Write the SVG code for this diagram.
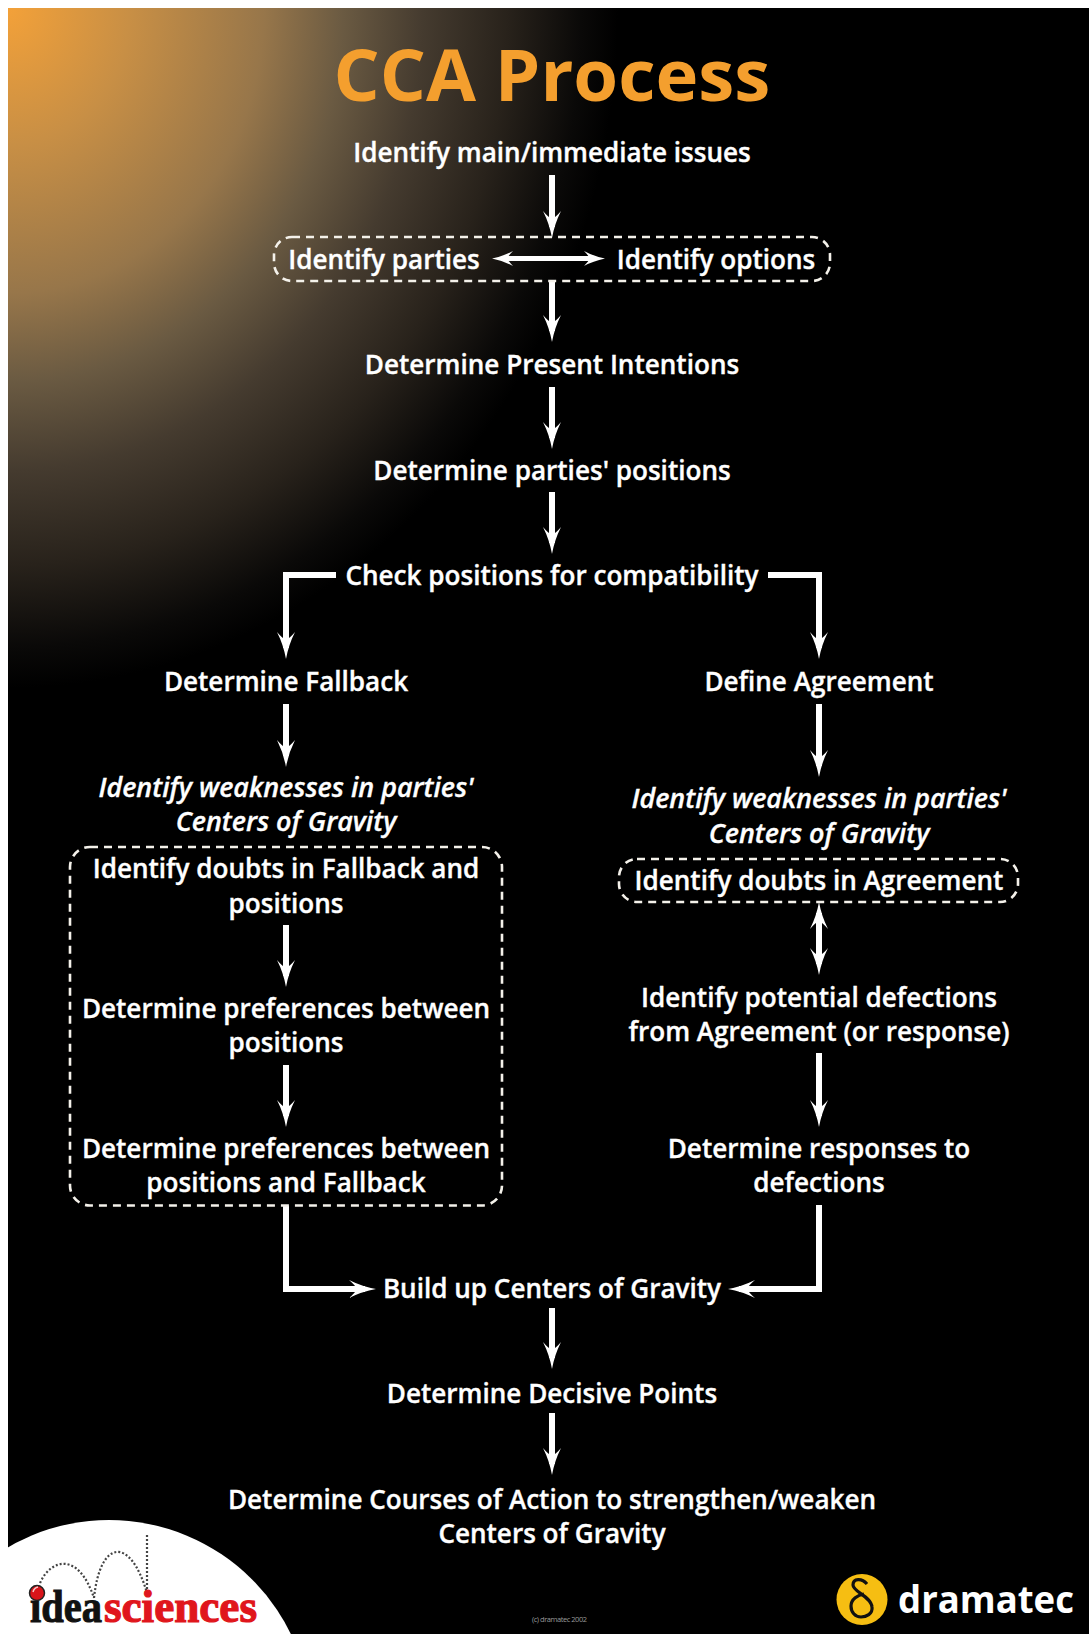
<svg xmlns="http://www.w3.org/2000/svg" width="1089" height="1634" viewBox="0 0 1089 1634">
<style>
.t{font-family:"Open Sans","Noto Sans",sans-serif;font-weight:600;font-size:26.1px;fill:#fff;stroke:#fff;stroke-width:.35px;text-anchor:middle;transform:translateY(.6px)}
.i{font-style:italic;font-size:26.9px}
.c{fill:none;stroke:#fff;stroke-width:6}
.h{fill:none;stroke:#fff;stroke-width:5}
.d{fill:none;stroke:#f4f1ea;stroke-width:2.6;stroke-dasharray:8 6}
.dot{fill:none;stroke:#444;stroke-width:2.2;stroke-dasharray:2 2}
</style>
<defs>
<radialGradient id="glow" gradientUnits="userSpaceOnUse" cx="0" cy="0" r="1" gradientTransform="translate(8 8) scale(610 680)">
<stop offset="0" stop-color="#f3a139"/>
<stop offset=".2" stop-color="#c88f45"/>
<stop offset=".42" stop-color="#97764a"/>
<stop offset=".55" stop-color="#6a5a42"/>
<stop offset=".68" stop-color="#453b2f"/>
<stop offset=".82" stop-color="#28221b"/>
<stop offset=".94" stop-color="#0a0908"/>
<stop offset="1" stop-color="#000"/>
</radialGradient>
<marker id="a" markerUnits="userSpaceOnUse" markerWidth="27" markerHeight="18" refX="16" refY="9" orient="auto-start-reverse" viewBox="0 0 27 18">
<path d="M27 9Q13 6.500 0 0Q6 5 8 9Q6 13 0 18Q13 11.500 27 9Z" fill="#fff"/>
</marker>
<marker id="b" markerUnits="userSpaceOnUse" markerWidth="21" markerHeight="15" refX="12" refY="7.500" orient="auto-start-reverse" viewBox="0 0 21 15">
<path d="M21 7.500Q9 5 0 0Q4 4 6 7.500Q4 11 0 15Q9 10 21 7.500Z" fill="#fff"/>
</marker>
</defs>
<rect width="1089" height="1634" fill="#fff"/>
<rect id="background" x="8" y="8" width="1081" height="1626" fill="#000"/>
<rect x="8" y="8" width="680" height="700" fill="url(#glow)"/>
<circle cx="109" cy="1722" r="202" fill="#fff"/>
<rect x="0" y="1500" width="8" height="134" fill="#fff"/>

<g id="connectors">
<path class="c" marker-end="url(#a)" d="M552 175V227"/>
<path class="h" marker-start="url(#b)" marker-end="url(#b)" d="M501 258.500H596"/>
<path class="c" marker-end="url(#a)" d="M552 281V331"/>
<path class="c" marker-end="url(#a)" d="M552 387V438"/>
<path class="c" marker-end="url(#a)" d="M552 492V543"/>
<path class="c" marker-end="url(#a)" d="M336 575H286V648"/>
<path class="c" marker-end="url(#a)" d="M768 575H819V648"/>
<path class="c" marker-end="url(#a)" d="M286 704V756"/>
<path class="c" marker-end="url(#a)" d="M819 704V766"/>
<path class="c" marker-end="url(#a)" d="M286 925V976"/>
<path class="c" marker-end="url(#a)" d="M286 1065V1116"/>
<path class="c" marker-start="url(#a)" marker-end="url(#a)" d="M819 913V964"/>
<path class="c" marker-end="url(#a)" d="M819 1053V1116"/>
<path class="c" marker-end="url(#a)" d="M286 1206V1289H365"/>
<path class="c" marker-end="url(#a)" d="M819 1205V1289H739"/>
<path class="c" marker-end="url(#a)" d="M552 1308V1358"/>
<path class="c" marker-end="url(#a)" d="M552 1413V1464"/>
</g>

<g id="title"><text x="552" y="101" style="font-family:'Open Sans','Noto Sans',sans-serif;font-weight:700;font-size:72.500px;fill:#f49f2e;text-anchor:middle">CCA Process</text></g>
<g id="n1"><text class="t" x="552" y="161.500">Identify main/immediate issues</text></g>
<g id="n2">
<rect class="d" x="274" y="237" width="556" height="44" rx="18"/>
<text class="t" x="384" y="268">Identify parties</text>
<text class="t" x="716" y="268">Identify options</text>
</g>
<g id="n3"><text class="t" x="552" y="373">Determine Present Intentions</text></g>
<g id="n4"><text class="t" x="552" y="479">Determine parties' positions</text></g>
<g id="n5"><text class="t" x="552" y="584.500">Check positions for compatibility</text></g>
<g id="n6"><text class="t" x="286" y="690">Determine Fallback</text></g>
<g id="n7"><text class="t" x="819" y="690">Define Agreement</text></g>
<g id="n8"><text class="t i" x="286" y="796">Identify weaknesses in parties'</text><text class="t i" x="286" y="830.500">Centers of Gravity</text></g>
<g id="n9"><text class="t i" x="819" y="807.500">Identify weaknesses in parties'</text><text class="t i" x="819" y="842">Centers of Gravity</text></g>
<g id="box-left"><rect class="d" x="70" y="847" width="432" height="358.500" rx="20"/></g>
<g id="n10"><text class="t" x="286" y="877.500">Identify doubts in Fallback and</text><text class="t" x="286" y="912">positions</text></g>
<g id="n11"><text class="t" x="286" y="1017">Determine preferences between</text><text class="t" x="286" y="1051.500">positions</text></g>
<g id="n12"><text class="t" x="286" y="1157">Determine preferences between</text><text class="t" x="286" y="1191">positions and Fallback</text></g>
<g id="n13"><rect class="d" x="619" y="859" width="399" height="43" rx="18"/><text class="t" x="819" y="889">Identify doubts in Agreement</text></g>
<g id="n14"><text class="t" x="819" y="1006">Identify potential defections</text><text class="t" x="819" y="1040">from Agreement (or response)</text></g>
<g id="n15"><text class="t" x="819" y="1157">Determine responses to</text><text class="t" x="819" y="1191">defections</text></g>
<g id="n16"><text class="t" x="552" y="1297">Build up Centers of Gravity</text></g>
<g id="n17"><text class="t" x="552" y="1402.500">Determine Decisive Points</text></g>
<g id="n18"><text class="t" x="552" y="1508">Determine Courses of Action to strengthen/weaken</text><text class="t" x="552" y="1542">Centers of Gravity</text></g>

<g id="logo-ideasciences">
<path class="dot" d="M40 1583C50 1560 78 1550 94 1598"/>
<path class="dot" d="M94 1598C100 1540 130 1535 147 1593"/>
<path class="dot" d="M147 1535V1593"/>
<text x="30" y="1622" textLength="72" lengthAdjust="spacingAndGlyphs" style="font-family:'Liberation Serif',serif;font-weight:700;font-size:46px;fill:#111;stroke:#111;stroke-width:1">idea</text>
<text x="104" y="1622" textLength="153" lengthAdjust="spacingAndGlyphs" style="font-family:'Liberation Serif',serif;font-weight:700;font-size:46px;fill:#e0161c;stroke:#e0161c;stroke-width:1.200">sciences</text>
<circle cx="37" cy="1593" r="7.500" fill="#d8141a" stroke="#222" stroke-width="1.500"/>
<path d="M33 1592Q34 1588 38 1587" fill="none" stroke="#f6c8c8" stroke-width="1.500"/>
</g>
<g id="logo-dramatec">
<ellipse cx="862" cy="1599.500" rx="25.500" ry="25.500" fill="#f6be12"/>
<path d="M867 1584C862 1578 853 1578 853 1585C853 1592 871 1596 872 1607C873 1614 866 1617 861 1617C855 1617 851 1612 851 1606C851 1599 858 1595 864 1594" fill="none" stroke="#111" stroke-width="3.200"/>
<text x="898" y="1613" style="font-family:'Open Sans','Noto Sans',sans-serif;font-weight:700;font-size:38px;fill:#fff" textLength="176" lengthAdjust="spacingAndGlyphs">dramatec</text>
</g>
<g id="copyright"><text x="532" y="1622" textLength="55" style="font-family:'Open Sans','Noto Sans',sans-serif;font-size:7.500px;fill:#999">(c) dramatec 2002</text></g>
</svg>
